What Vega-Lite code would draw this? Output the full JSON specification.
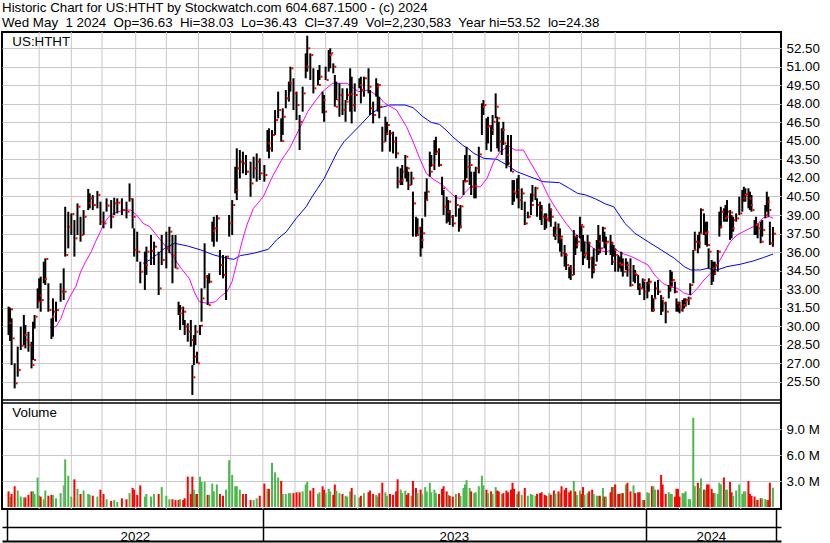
{
"$schema": "https://vega.github.io/schema/vega-lite/v6.json",
"width": 779, "height": 477,
"autosize": "none",
"padding": {"left": 2, "top": 32, "right": 49, "bottom": 34},
"background": "white",
"config": {"view": {"stroke": "black", "strokeWidth": 2}, "font": "Liberation Sans", "axis": {"labelFont": "Liberation Sans", "labelColor": "black"}},
"title": {"text": ["Historic Chart for US:HTHT by Stockwatch.com 604.687.1500 - (c) 2024", "Wed May\u00a0 1 2024\u00a0 Op=36.63\u00a0 Hi=38.03\u00a0 Lo=36.43\u00a0 Cl=37.49\u00a0 Vol=2,230,583\u00a0 Year hi=53.52\u00a0 lo=24.38"], "anchor": "start", "frame": "group", "fontSize": 13.33, "fontWeight": "normal", "font": "Liberation Sans", "color": "black", "lineHeight": 15, "offset": 2},
"datasets": {
"months": [{"i":21},{"i":42},{"i":62},{"i":84},{"i":104},{"i":125},{"i":146},{"i":167},{"i":188},{"i":208},{"i":229},{"i":249},{"i":271},{"i":291},{"i":312},{"i":334},{"i":354},{"i":375},{"i":397},{"i":417},{"i":439},{"i":459},{"i":479}],
"maS": [{"i":28.4,"m":29.9},{"i":32,"m":29.96},{"i":35.2,"m":30.63},{"i":38.4,"m":31.71},{"i":41.7,"m":32.52},{"i":44.9,"m":33.2},{"i":48.1,"m":34.41},{"i":51.3,"m":35.22},{"i":55,"m":36.03},{"i":57.8,"m":36.84},{"i":61,"m":37.65},{"i":63.2,"m":38.32},{"i":67.4,"m":39.0},{"i":71.7,"m":39.22},{"i":76,"m":39.4},{"i":80.8,"m":39.4},{"i":84.6,"m":39.0},{"i":88.9,"m":38.32},{"i":93.2,"m":38.05},{"i":97.5,"m":37.38},{"i":102.9,"m":36.57},{"i":109.3,"m":35.49},{"i":113.6,"m":34.68},{"i":119,"m":33.87},{"i":122.2,"m":32.79},{"i":125.5,"m":31.98},{"i":130.8,"m":31.85},{"i":136.2,"m":31.98},{"i":140.5,"m":32.52},{"i":143.7,"m":32.79},{"i":146.9,"m":33.6},{"i":150.2,"m":35.22},{"i":153.4,"m":36.84},{"i":156.6,"m":38.19},{"i":160.9,"m":39.54},{"i":167.3,"m":40.48},{"i":172.7,"m":41.97},{"i":179.2,"m":43.45},{"i":184.5,"m":44.4},{"i":191,"m":46.02},{"i":196.3,"m":47.37},{"i":201.7,"m":48.31},{"i":206,"m":48.99},{"i":212.5,"m":49.66},{"i":222.1,"m":49.66},{"i":226.4,"m":49.26},{"i":229.6,"m":48.99},{"i":236.1,"m":49.12},{"i":242.5,"m":48.58},{"i":246.8,"m":48.04},{"i":254.3,"m":47.5},{"i":260.8,"m":46.15},{"i":265.1,"m":44.94},{"i":269.4,"m":43.59},{"i":273.7,"m":42.37},{"i":279.1,"m":41.83},{"i":284.4,"m":41.43},{"i":288.7,"m":40.89},{"i":293,"m":40.4},{"i":296.2,"m":40.35},{"i":299.5,"m":40.89},{"i":302.7,"m":41.29},{"i":309.1,"m":41.29},{"i":313.4,"m":41.97},{"i":317.7,"m":43.32},{"i":322,"m":44.13},{"i":327.4,"m":44.59},{"i":331.7,"m":44.26},{"i":337.1,"m":44.26},{"i":341.4,"m":43.32},{"i":347.8,"m":41.97},{"i":354.2,"m":40.35},{"i":359.6,"m":39.27},{"i":365,"m":38.32},{"i":369.3,"m":37.65},{"i":374.7,"m":37.11},{"i":380,"m":36.57},{"i":384.3,"m":36.17},{"i":390.8,"m":36.03},{"i":397.2,"m":36.2},{"i":401.3,"m":35.9},{"i":407.7,"m":35.63},{"i":414.2,"m":35.22},{"i":418.5,"m":34.95},{"i":422.8,"m":34.14},{"i":428.1,"m":33.47},{"i":432.4,"m":33.2},{"i":437.8,"m":33.06},{"i":442.1,"m":32.66},{"i":446.4,"m":32.52},{"i":450.7,"m":33.06},{"i":455,"m":33.74},{"i":459.3,"m":34.28},{"i":463.6,"m":34.95},{"i":467.9,"m":35.9},{"i":472.2,"m":36.84},{"i":476.5,"m":37.38},{"i":482.9,"m":37.79},{"i":489.4,"m":38.19},{"i":493.7,"m":38.78},{"i":498,"m":38.86},{"i":500.1,"m":38.73}],
"maL": [{"i":88.9,"m":35.09},{"i":93.2,"m":35.36},{"i":97.5,"m":35.76},{"i":102.9,"m":36.3},{"i":109.3,"m":36.71},{"i":117.9,"m":36.49},{"i":126.5,"m":36.17},{"i":135.1,"m":35.76},{"i":143.7,"m":35.49},{"i":148,"m":35.41},{"i":152.3,"m":35.71},{"i":160.9,"m":35.9},{"i":170.6,"m":36.22},{"i":175.9,"m":36.98},{"i":182.4,"m":37.65},{"i":188.8,"m":38.73},{"i":195.3,"m":39.67},{"i":198.5,"m":40.35},{"i":202.8,"m":41.16},{"i":207.1,"m":41.97},{"i":211.4,"m":43.05},{"i":215.7,"m":44.13},{"i":220,"m":44.94},{"i":224.3,"m":45.48},{"i":230.7,"m":46.29},{"i":237.2,"m":47.15},{"i":243.6,"m":47.69},{"i":250.1,"m":47.91},{"i":259.7,"m":47.91},{"i":265.1,"m":47.69},{"i":271.5,"m":46.96},{"i":276.9,"m":46.5},{"i":282.3,"m":46.34},{"i":286.6,"m":45.88},{"i":290.9,"m":45.34},{"i":297.3,"m":44.67},{"i":301.6,"m":44.32},{"i":304.8,"m":43.99},{"i":311.3,"m":43.59},{"i":319.9,"m":43.51},{"i":326.3,"m":43.05},{"i":332.8,"m":42.51},{"i":341.4,"m":42.1},{"i":350,"m":41.7},{"i":360.7,"m":41.62},{"i":367.1,"m":41.16},{"i":372.5,"m":40.75},{"i":377.9,"m":40.62},{"i":384.3,"m":40.3},{"i":390.8,"m":39.89},{"i":396.1,"m":39.67},{"i":403.4,"m":38.32},{"i":409.9,"m":37.52},{"i":418.5,"m":36.84},{"i":427.1,"m":36.17},{"i":435.7,"m":35.49},{"i":442.1,"m":34.82},{"i":446.4,"m":34.55},{"i":452.8,"m":34.55},{"i":457.1,"m":34.68},{"i":463.6,"m":34.55},{"i":470,"m":34.82},{"i":478.6,"m":35.01},{"i":487.2,"m":35.28},{"i":493.7,"m":35.55},{"i":500.1,"m":35.84}],
"bars": [
{"i":1,"h":31.58,"l":29.28,"c":30.23,"v":1.8,"d":"dn"},
{"i":2,"h":31.5,"l":28.8,"c":31.36,"v":1.2,"d":"up"},
{"i":3,"h":30.63,"l":26.85,"c":29.01,"v":1.5,"d":"dn"},
{"i":5,"h":26.99,"l":24.96,"c":25.37,"v":2.4,"d":"dn"},
{"i":7,"h":28.34,"l":25.91,"c":26.45,"v":1.9,"d":"up"},
{"i":9,"h":29.96,"l":28.07,"c":28.42,"v":1.2,"d":"up"},
{"i":11,"h":30.9,"l":28.47,"c":29.28,"v":1.1,"d":"up"},
{"i":12,"h":30.09,"l":28.2,"c":28.88,"v":1.1,"d":"dn"},
{"i":14,"h":29.55,"l":27.93,"c":28.47,"v":1.4,"d":"dn"},
{"i":16,"h":28.74,"l":26.58,"c":26.85,"v":1.8,"d":"dn"},
{"i":17,"h":30.36,"l":27.26,"c":27.26,"v":1.8,"d":"up"},
{"i":18,"h":30.9,"l":29.8,"c":30.77,"v":1.5,"d":"up"},
{"i":20,"h":33.06,"l":31.44,"c":31.98,"v":3.4,"d":"up"},
{"i":21,"h":33.87,"l":31.98,"c":32.47,"v":1.3,"d":"up"},
{"i":22,"h":34.01,"l":31.17,"c":32.12,"v":1.2,"d":"dn"},
{"i":24,"h":35.22,"l":33.47,"c":33.82,"v":0.9,"d":"up"},
{"i":25,"h":35.49,"l":33.33,"c":35.44,"v":1.9,"d":"up"},
{"i":27,"h":33.47,"l":31.17,"c":31.31,"v":1.3,"d":"dn"},
{"i":29,"h":30.63,"l":28.96,"c":30.77,"v":1.4,"d":"dn"},
{"i":30,"h":32.25,"l":29.15,"c":31.17,"v":1.4,"d":"up"},
{"i":32,"h":31.98,"l":30.36,"c":31.3,"v":1.0,"d":"up"},
{"i":35,"h":33.47,"l":31.98,"c":32.79,"v":1.6,"d":"up"},
{"i":37,"h":34.68,"l":32.12,"c":32.79,"v":2.5,"d":"eq"},
{"i":38,"h":39.67,"l":35.63,"c":35.76,"v":5.5,"d":"up"},
{"i":40,"h":39.27,"l":36.3,"c":38.05,"v":3.6,"d":"up"},
{"i":42,"h":39.13,"l":37.38,"c":39.08,"v":1.2,"d":"up"},
{"i":44,"h":38.59,"l":35.63,"c":37.11,"v":3.2,"d":"dn"},
{"i":46,"h":39.94,"l":37.38,"c":39.67,"v":2.1,"d":"up"},
{"i":48,"h":38.86,"l":36.84,"c":37.38,"v":1.5,"d":"dn"},
{"i":50,"h":39.4,"l":37.38,"c":38.86,"v":1.9,"d":"up"},
{"i":53,"h":41.11,"l":39.4,"c":39.94,"v":1.5,"d":"up"},
{"i":54,"h":40.75,"l":39.54,"c":40.35,"v":1.4,"d":"up"},
{"i":56,"h":40.62,"l":39.4,"c":39.81,"v":1.3,"d":"dn"},
{"i":59,"h":40.94,"l":39.54,"c":40.62,"v":1.2,"d":"up"},
{"i":61,"h":40.08,"l":38.19,"c":38.46,"v":2.0,"d":"dn"},
{"i":63,"h":39.27,"l":37.92,"c":38.32,"v":1.5,"d":"dn"},
{"i":65,"h":40.35,"l":39.27,"c":39.76,"v":0.9,"d":"up"},
{"i":68,"h":40.21,"l":37.92,"c":38.86,"v":0.7,"d":"dn"},
{"i":70,"h":40.4,"l":39.0,"c":39.94,"v":0.8,"d":"up"},
{"i":72,"h":40.35,"l":39.13,"c":40.0,"v":0.6,"d":"up"},
{"i":75,"h":40.35,"l":39.0,"c":39.4,"v":1.0,"d":"dn"},
{"i":78,"h":40.08,"l":38.73,"c":39.27,"v":0.9,"d":"dn"},
{"i":80,"h":41.56,"l":40.08,"c":40.3,"v":1.6,"d":"up"},
{"i":82,"h":40.35,"l":37.92,"c":38.86,"v":2.2,"d":"dn"},
{"i":83,"h":37.92,"l":35.63,"c":36.17,"v":2.0,"d":"dn"},
{"i":85,"h":37.65,"l":35.22,"c":36.03,"v":1.4,"d":"dn"},
{"i":87,"h":35.22,"l":33.47,"c":34.41,"v":2.5,"d":"dn"},
{"i":90,"h":36.03,"l":32.93,"c":34.95,"v":1.2,"d":"up"},
{"i":91,"h":36.44,"l":34.14,"c":36.03,"v":1.5,"d":"up"},
{"i":94,"h":37.38,"l":34.95,"c":36.1,"v":1.2,"d":"up"},
{"i":96,"h":36.84,"l":34.95,"c":36.44,"v":1.5,"d":"up"},
{"i":99,"h":36.03,"l":32.52,"c":33.06,"v":1.5,"d":"dn"},
{"i":101,"h":37.38,"l":34.95,"c":35.36,"v":2.3,"d":"up"},
{"i":104,"h":37.65,"l":34.68,"c":36.3,"v":1.3,"d":"up"},
{"i":106,"h":38.05,"l":35.9,"c":37.65,"v":0.9,"d":"up"},
{"i":108,"h":37.38,"l":33.47,"c":35.76,"v":0.9,"d":"dn"},
{"i":110,"h":37.38,"l":34.68,"c":34.68,"v":0.8,"d":"dn"},
{"i":112,"h":31.98,"l":30.9,"c":31.04,"v":0.8,"d":"dn"},
{"i":113,"h":31.71,"l":29.69,"c":31.44,"v":0.9,"d":"up"},
{"i":115,"h":31.58,"l":30.09,"c":31.17,"v":0.8,"d":"dn"},
{"i":116,"h":30.5,"l":29.28,"c":29.96,"v":1.0,"d":"dn"},
{"i":118,"h":30.23,"l":28.74,"c":29.55,"v":3.5,"d":"dn"},
{"i":120,"h":30.5,"l":28.34,"c":28.88,"v":1.5,"d":"dn"},
{"i":121,"h":26.85,"l":24.43,"c":25.86,"v":3.5,"d":"dn"},
{"i":122,"h":29.28,"l":26.85,"c":27.53,"v":2.0,"d":"up"},
{"i":123,"h":30.09,"l":28.47,"c":29.55,"v":1.5,"d":"up"},
{"i":124,"h":27.93,"l":26.99,"c":26.99,"v":1.5,"d":"dn"},
{"i":126,"h":30.09,"l":29.28,"c":30.04,"v":3.5,"d":"up"},
{"i":127,"h":33.06,"l":30.36,"c":32.25,"v":2.9,"d":"up"},
{"i":129,"h":36.71,"l":33.06,"c":34.01,"v":2.9,"d":"up"},
{"i":131,"h":34.14,"l":31.71,"c":31.71,"v":1.4,"d":"dn"},
{"i":132,"h":34.28,"l":33.47,"c":33.6,"v":1.4,"d":"up"},
{"i":134,"h":38.46,"l":36.84,"c":37.7,"v":2.7,"d":"up"},
{"i":135,"h":38.86,"l":36.44,"c":37.92,"v":1.8,"d":"up"},
{"i":137,"h":39.0,"l":36.84,"c":38.73,"v":2.6,"d":"up"},
{"i":139,"h":36.17,"l":34.14,"c":34.95,"v":1.5,"d":"dn"},
{"i":141,"h":35.76,"l":33.87,"c":34.14,"v":1.3,"d":"dn"},
{"i":143,"h":35.7,"l":32.12,"c":35.63,"v":2.0,"d":"up"},
{"i":145,"h":39.0,"l":37.25,"c":38.32,"v":5.4,"d":"up"},
{"i":147,"h":40.21,"l":37.38,"c":39.81,"v":3.7,"d":"up"},
{"i":149,"h":42.91,"l":40.75,"c":41.02,"v":2.4,"d":"up"},
{"i":150,"h":44.4,"l":40.21,"c":42.78,"v":2.4,"d":"up"},
{"i":152,"h":44.26,"l":41.97,"c":43.32,"v":2.0,"d":"up"},
{"i":154,"h":44.13,"l":42.37,"c":43.18,"v":1.5,"d":"dn"},
{"i":156,"h":43.86,"l":42.24,"c":42.51,"v":1.5,"d":"dn"},
{"i":159,"h":43.32,"l":40.48,"c":41.56,"v":0.8,"d":"dn"},
{"i":161,"h":43.72,"l":41.97,"c":42.78,"v":0.8,"d":"up"},
{"i":163,"h":43.99,"l":41.7,"c":43.32,"v":1.0,"d":"up"},
{"i":165,"h":43.59,"l":41.83,"c":42.37,"v":1.3,"d":"dn"},
{"i":168,"h":43.05,"l":41.7,"c":42.24,"v":2.7,"d":"dn"},
{"i":170,"h":45.88,"l":44.13,"c":44.8,"v":2.1,"d":"up"},
{"i":171,"h":46.02,"l":43.59,"c":44.4,"v":2.1,"d":"dn"},
{"i":173,"h":45.88,"l":44.13,"c":45.48,"v":5.1,"d":"up"},
{"i":175,"h":47.5,"l":45.48,"c":46.69,"v":4.0,"d":"up"},
{"i":177,"h":48.99,"l":46.83,"c":47.5,"v":3.4,"d":"up"},
{"i":179,"h":46.83,"l":44.94,"c":44.99,"v":3.0,"d":"dn"},
{"i":180,"h":47.64,"l":45.48,"c":46.96,"v":1.5,"d":"up"},
{"i":182,"h":49.12,"l":47.64,"c":48.45,"v":1.5,"d":"up"},
{"i":184,"h":49.8,"l":48.18,"c":49.66,"v":1.6,"d":"up"},
{"i":185,"h":51.01,"l":48.99,"c":50.88,"v":1.6,"d":"up"},
{"i":187,"h":50.07,"l":47.5,"c":48.85,"v":1.6,"d":"dn"},
{"i":189,"h":48.99,"l":46.69,"c":47.91,"v":1.7,"d":"dn"},
{"i":191,"h":47.1,"l":44.26,"c":46.55,"v":1.7,"d":"dn"},
{"i":193,"h":49.39,"l":47.37,"c":48.85,"v":1.8,"d":"up"},
{"i":195,"h":52.09,"l":50.07,"c":51.01,"v":2.6,"d":"up"},
{"i":196,"h":53.52,"l":50.61,"c":52.5,"v":2.9,"d":"up"},
{"i":198,"h":52.09,"l":49.93,"c":51.96,"v":1.9,"d":"dn"},
{"i":200,"h":50.88,"l":48.85,"c":49.26,"v":2.2,"d":"dn"},
{"i":203,"h":50.74,"l":49.5,"c":49.53,"v":1.5,"d":"up"},
{"i":204,"h":51.15,"l":49.93,"c":50.2,"v":1.7,"d":"up"},
{"i":206,"h":48.99,"l":47.23,"c":48.31,"v":2.4,"d":"dn"},
{"i":207,"h":48.72,"l":46.55,"c":47.37,"v":2.0,"d":"dn"},
{"i":208,"h":51.01,"l":49.93,"c":49.93,"v":1.6,"d":"up"},
{"i":210,"h":52.36,"l":50.61,"c":51.96,"v":2.1,"d":"up"},
{"i":211,"h":52.5,"l":50.88,"c":52.09,"v":1.8,"d":"up"},
{"i":213,"h":51.28,"l":50.47,"c":51.01,"v":1.4,"d":"dn"},
{"i":214,"h":50.34,"l":47.77,"c":47.77,"v":2.6,"d":"dn"},
{"i":215,"h":49.8,"l":48.31,"c":48.31,"v":1.9,"d":"up"},
{"i":217,"h":49.66,"l":46.96,"c":48.72,"v":1.6,"d":"up"},
{"i":219,"h":49.26,"l":47.1,"c":47.5,"v":1.5,"d":"dn"},
{"i":221,"h":48.31,"l":46.55,"c":48.18,"v":1.3,"d":"up"},
{"i":222,"h":49.26,"l":48.31,"c":48.72,"v":1.2,"d":"up"},
{"i":224,"h":50.88,"l":47.37,"c":48.8,"v":1.8,"d":"up"},
{"i":225,"h":50.2,"l":46.42,"c":47.91,"v":2.2,"d":"dn"},
{"i":227,"h":49.66,"l":47.37,"c":48.72,"v":1.4,"d":"up"},
{"i":230,"h":50.07,"l":49.26,"c":49.53,"v":1.1,"d":"up"},
{"i":231,"h":50.2,"l":48.04,"c":49.12,"v":1.3,"d":"dn"},
{"i":233,"h":50.2,"l":48.58,"c":50.07,"v":1.6,"d":"up"},
{"i":236,"h":50.88,"l":48.85,"c":49.39,"v":1.7,"d":"dn"},
{"i":237,"h":49.12,"l":47.1,"c":47.64,"v":1.9,"d":"dn"},
{"i":239,"h":48.18,"l":46.42,"c":47.1,"v":1.5,"d":"dn"},
{"i":241,"h":50.07,"l":48.58,"c":49.39,"v":1.4,"d":"up"},
{"i":242,"h":49.66,"l":47.37,"c":49.53,"v":1.2,"d":"up"},
{"i":243,"h":48.58,"l":46.83,"c":47.77,"v":1.6,"d":"dn"},
{"i":245,"h":46.15,"l":44.13,"c":44.94,"v":2.8,"d":"dn"},
{"i":247,"h":46.96,"l":44.94,"c":45.61,"v":1.7,"d":"up"},
{"i":248,"h":46.55,"l":45.48,"c":46.29,"v":1.3,"d":"up"},
{"i":250,"h":45.88,"l":44.13,"c":45.61,"v":1.5,"d":"dn"},
{"i":252,"h":45.75,"l":43.99,"c":44.94,"v":1.4,"d":"dn"},
{"i":254,"h":45.34,"l":43.59,"c":43.99,"v":1.8,"d":"dn"},
{"i":255,"h":42.91,"l":41.16,"c":41.7,"v":3.2,"d":"dn"},
{"i":257,"h":42.78,"l":41.43,"c":41.8,"v":2.0,"d":"up"},
{"i":258,"h":43.05,"l":41.43,"c":42.51,"v":1.6,"d":"up"},
{"i":260,"h":43.86,"l":41.97,"c":43.72,"v":1.9,"d":"up"},
{"i":261,"h":42.91,"l":41.7,"c":42.78,"v":1.4,"d":"dn"},
{"i":262,"h":42.51,"l":41.02,"c":41.43,"v":1.6,"d":"dn"},
{"i":264,"h":42.51,"l":41.43,"c":41.97,"v":1.3,"d":"up"},
{"i":265,"h":40.89,"l":37.25,"c":39.94,"v":3.0,"d":"dn"},
{"i":267,"h":38.86,"l":37.25,"c":37.38,"v":2.2,"d":"dn"},
{"i":268,"h":38.73,"l":37.38,"c":37.92,"v":1.6,"d":"up"},
{"i":270,"h":38.05,"l":35.63,"c":36.98,"v":2.0,"d":"dn"},
{"i":271,"h":38.73,"l":36.3,"c":37.52,"v":1.5,"d":"up"},
{"i":273,"h":40.89,"l":38.86,"c":40.21,"v":2.3,"d":"up"},
{"i":274,"h":41.97,"l":40.21,"c":40.89,"v":1.8,"d":"up"},
{"i":276,"h":44.13,"l":42.1,"c":42.51,"v":2.8,"d":"up"},
{"i":277,"h":43.86,"l":42.91,"c":43.05,"v":1.7,"d":"up"},
{"i":279,"h":45.07,"l":42.64,"c":43.99,"v":2.0,"d":"up"},
{"i":280,"h":45.34,"l":43.86,"c":44.13,"v":1.6,"d":"up"},
{"i":282,"h":44.4,"l":42.91,"c":43.05,"v":1.5,"d":"dn"},
{"i":284,"h":42.1,"l":40.62,"c":41.16,"v":2.1,"d":"dn"},
{"i":285,"h":41.02,"l":39.0,"c":39.67,"v":2.4,"d":"dn"},
{"i":287,"h":40.48,"l":38.32,"c":39.27,"v":1.8,"d":"dn"},
{"i":288,"h":40.21,"l":38.46,"c":40.08,"v":1.4,"d":"up"},
{"i":289,"h":39.4,"l":38.19,"c":38.86,"v":1.3,"d":"dn"},
{"i":291,"h":39.0,"l":38.05,"c":38.32,"v":1.2,"d":"dn"},
{"i":293,"h":40.62,"l":38.86,"c":39.81,"v":1.5,"d":"up"},
{"i":295,"h":39.54,"l":37.65,"c":38.05,"v":1.6,"d":"dn"},
{"i":296,"h":39.81,"l":37.92,"c":39.7,"v":1.3,"d":"up"},
{"i":298,"h":41.83,"l":40.62,"c":41.7,"v":2.2,"d":"up"},
{"i":299,"h":43.86,"l":41.7,"c":41.75,"v":2.6,"d":"up"},
{"i":300,"h":44.53,"l":41.97,"c":42.91,"v":3.1,"d":"up"},
{"i":302,"h":43.86,"l":41.43,"c":43.05,"v":2.2,"d":"up"},
{"i":303,"h":42.51,"l":40.62,"c":41.29,"v":1.8,"d":"dn"},
{"i":305,"h":42.51,"l":40.35,"c":41.35,"v":1.6,"d":"up"},
{"i":306,"h":42.91,"l":40.35,"c":42.78,"v":1.7,"d":"up"},
{"i":308,"h":44.53,"l":42.37,"c":43.91,"v":2.4,"d":"up"},
{"i":310,"h":48.04,"l":45.48,"c":47.77,"v":3.6,"d":"up"},
{"i":311,"h":48.31,"l":47.1,"c":47.91,"v":2.5,"d":"up"},
{"i":313,"h":46.83,"l":44.26,"c":46.15,"v":2.0,"d":"dn"},
{"i":314,"h":46.96,"l":44.8,"c":46.2,"v":1.6,"d":"up"},
{"i":316,"h":46.29,"l":44.13,"c":45.88,"v":1.8,"d":"dn"},
{"i":317,"h":47.1,"l":45.48,"c":46.55,"v":1.5,"d":"up"},
{"i":319,"h":48.85,"l":46.83,"c":47.77,"v":2.3,"d":"up"},
{"i":320,"h":46.96,"l":44.4,"c":46.83,"v":1.9,"d":"dn"},
{"i":321,"h":46.55,"l":44.13,"c":44.94,"v":1.8,"d":"dn"},
{"i":323,"h":46.02,"l":43.86,"c":45.88,"v":1.5,"d":"up"},
{"i":324,"h":46.55,"l":44.67,"c":44.8,"v":1.6,"d":"dn"},
{"i":326,"h":44.67,"l":42.78,"c":43.86,"v":1.9,"d":"dn"},
{"i":327,"h":45.48,"l":43.05,"c":43.18,"v":1.7,"d":"dn"},
{"i":329,"h":45.48,"l":42.51,"c":42.51,"v":2.0,"d":"dn"},
{"i":330,"h":41.83,"l":39.81,"c":40.89,"v":2.8,"d":"dn"},
{"i":331,"h":41.83,"l":40.08,"c":40.75,"v":2.1,"d":"dn"},
{"i":333,"h":41.97,"l":40.35,"c":41.02,"v":1.5,"d":"up"},
{"i":334,"h":42.24,"l":39.54,"c":40.21,"v":1.8,"d":"dn"},
{"i":336,"h":41.16,"l":39.4,"c":40.75,"v":1.4,"d":"up"},
{"i":338,"h":40.08,"l":38.19,"c":38.32,"v":2.2,"d":"dn"},
{"i":340,"h":39.27,"l":38.73,"c":38.86,"v":1.3,"d":"up"},
{"i":342,"h":40.75,"l":39.0,"c":39.81,"v":1.5,"d":"up"},
{"i":343,"h":41.43,"l":40.08,"c":40.62,"v":1.4,"d":"up"},
{"i":345,"h":41.29,"l":40.21,"c":41.16,"v":1.3,"d":"up"},
{"i":346,"h":40.35,"l":38.86,"c":39.81,"v":1.5,"d":"dn"},
{"i":348,"h":40.08,"l":38.59,"c":39.4,"v":1.6,"d":"dn"},
{"i":349,"h":39.81,"l":38.19,"c":38.86,"v":1.7,"d":"dn"},
{"i":351,"h":39.13,"l":37.79,"c":38.73,"v":1.4,"d":"dn"},
{"i":352,"h":39.13,"l":37.92,"c":38.59,"v":1.3,"d":"dn"},
{"i":354,"h":39.94,"l":38.46,"c":39.4,"v":1.6,"d":"up"},
{"i":355,"h":39.54,"l":38.05,"c":38.86,"v":1.4,"d":"dn"},
{"i":357,"h":38.05,"l":37.25,"c":37.38,"v":1.9,"d":"dn"},
{"i":358,"h":38.46,"l":36.98,"c":37.92,"v":1.5,"d":"up"},
{"i":360,"h":38.32,"l":36.71,"c":37.11,"v":1.8,"d":"dn"},
{"i":361,"h":37.92,"l":36.03,"c":37.25,"v":1.6,"d":"up"},
{"i":362,"h":37.11,"l":35.63,"c":35.9,"v":2.4,"d":"dn"},
{"i":364,"h":36.57,"l":34.82,"c":35.76,"v":2.0,"d":"dn"},
{"i":365,"h":35.9,"l":34.55,"c":34.95,"v":2.2,"d":"dn"},
{"i":367,"h":34.82,"l":33.87,"c":34.68,"v":1.7,"d":"dn"},
{"i":368,"h":34.95,"l":33.74,"c":34.14,"v":1.9,"d":"dn"},
{"i":370,"h":37.79,"l":34.14,"c":37.25,"v":3.0,"d":"up"},
{"i":371,"h":37.25,"l":35.76,"c":36.57,"v":1.8,"d":"dn"},
{"i":372,"h":37.38,"l":36.3,"c":36.84,"v":1.4,"d":"up"},
{"i":374,"h":38.86,"l":37.11,"c":38.19,"v":1.9,"d":"up"},
{"i":375,"h":38.19,"l":36.03,"c":38.05,"v":1.5,"d":"dn"},
{"i":376,"h":37.38,"l":34.95,"c":35.76,"v":2.3,"d":"dn"},
{"i":377,"h":36.84,"l":35.49,"c":35.9,"v":1.4,"d":"up"},
{"i":379,"h":37.38,"l":35.36,"c":36.71,"v":1.6,"d":"up"},
{"i":380,"h":36.84,"l":34.68,"c":35.49,"v":1.8,"d":"dn"},
{"i":382,"h":35.63,"l":33.87,"c":34.55,"v":2.0,"d":"dn"},
{"i":383,"h":36.3,"l":34.28,"c":34.95,"v":1.5,"d":"up"},
{"i":385,"h":36.98,"l":35.22,"c":36.17,"v":1.3,"d":"up"},
{"i":386,"h":38.19,"l":35.76,"c":36.84,"v":1.3,"d":"up"},
{"i":387,"h":37.38,"l":35.9,"c":36.3,"v":1.3,"d":"dn"},
{"i":389,"h":38.05,"l":36.84,"c":37.92,"v":2.2,"d":"up"},
{"i":390,"h":37.65,"l":36.3,"c":36.71,"v":1.2,"d":"dn"},
{"i":391,"h":37.25,"l":35.76,"c":36.84,"v":1.2,"d":"up"},
{"i":394,"h":37.38,"l":35.76,"c":36.71,"v":1.7,"d":"dn"},
{"i":395,"h":36.84,"l":34.95,"c":35.22,"v":2.3,"d":"dn"},
{"i":396,"h":36.57,"l":35.63,"c":36.17,"v":2.3,"d":"up"},
{"i":397,"h":36.3,"l":34.41,"c":35.76,"v":2.6,"d":"dn"},
{"i":399,"h":35.76,"l":34.41,"c":35.09,"v":1.5,"d":"dn"},
{"i":400,"h":35.63,"l":34.68,"c":34.95,"v":1.5,"d":"dn"},
{"i":401,"h":36.03,"l":34.41,"c":35.0,"v":1.6,"d":"up"},
{"i":402,"h":35.49,"l":34.01,"c":34.41,"v":1.6,"d":"dn"},
{"i":404,"h":35.49,"l":34.55,"c":34.95,"v":2.6,"d":"up"},
{"i":405,"h":35.22,"l":34.01,"c":34.55,"v":2.8,"d":"dn"},
{"i":407,"h":35.49,"l":33.2,"c":33.33,"v":1.8,"d":"dn"},
{"i":409,"h":34.95,"l":33.6,"c":34.28,"v":2.5,"d":"up"},
{"i":410,"h":34.55,"l":33.47,"c":34.14,"v":1.6,"d":"dn"},
{"i":412,"h":34.14,"l":32.93,"c":33.2,"v":1.7,"d":"dn"},
{"i":413,"h":33.47,"l":32.52,"c":33.06,"v":1.7,"d":"dn"},
{"i":415,"h":33.87,"l":33.06,"c":33.74,"v":0.8,"d":"up"},
{"i":416,"h":33.6,"l":32.12,"c":32.79,"v":0.8,"d":"dn"},
{"i":418,"h":33.6,"l":32.25,"c":33.47,"v":1.7,"d":"up"},
{"i":419,"h":33.87,"l":32.79,"c":33.6,"v":1.6,"d":"up"},
{"i":421,"h":32.52,"l":31.17,"c":31.31,"v":2.4,"d":"dn"},
{"i":422,"h":32.25,"l":31.17,"c":32.25,"v":2.4,"d":"up"},
{"i":423,"h":33.6,"l":32.25,"c":33.06,"v":2.0,"d":"up"},
{"i":425,"h":33.74,"l":32.52,"c":32.79,"v":2.0,"d":"dn"},
{"i":427,"h":32.52,"l":30.9,"c":32.25,"v":3.7,"d":"dn"},
{"i":428,"h":32.12,"l":31.17,"c":31.85,"v":2.6,"d":"dn"},
{"i":430,"h":31.98,"l":30.23,"c":31.17,"v":1.5,"d":"dn"},
{"i":432,"h":33.33,"l":32.25,"c":33.2,"v":1.7,"d":"up"},
{"i":433,"h":34.55,"l":32.79,"c":33.6,"v":1.5,"d":"up"},
{"i":434,"h":34.41,"l":33.2,"c":33.74,"v":1.5,"d":"up"},
{"i":436,"h":33.6,"l":32.66,"c":32.79,"v":1.2,"d":"dn"},
{"i":437,"h":32.25,"l":31.17,"c":31.85,"v":2.1,"d":"dn"},
{"i":438,"h":31.98,"l":31.17,"c":31.58,"v":2.1,"d":"dn"},
{"i":439,"h":31.98,"l":31.04,"c":31.31,"v":1.2,"d":"dn"},
{"i":441,"h":32.12,"l":31.17,"c":31.71,"v":1.6,"d":"up"},
{"i":442,"h":32.25,"l":31.44,"c":31.98,"v":1.6,"d":"up"},
{"i":443,"h":32.25,"l":31.58,"c":32.12,"v":1.8,"d":"up"},
{"i":445,"h":32.39,"l":31.71,"c":32.25,"v":0.9,"d":"up"},
{"i":446,"h":33.47,"l":32.52,"c":33.33,"v":0.9,"d":"up"},
{"i":448,"h":36.17,"l":33.47,"c":36.17,"v":10.3,"d":"up"},
{"i":449,"h":37.65,"l":36.17,"c":36.84,"v":2.4,"d":"up"},
{"i":451,"h":37.38,"l":35.9,"c":36.71,"v":2.8,"d":"dn"},
{"i":452,"h":37.65,"l":36.3,"c":37.52,"v":2.2,"d":"up"},
{"i":453,"h":39.54,"l":37.52,"c":39.4,"v":3.3,"d":"up"},
{"i":455,"h":39.13,"l":37.38,"c":37.52,"v":2.0,"d":"dn"},
{"i":456,"h":38.46,"l":36.57,"c":37.6,"v":2.0,"d":"up"},
{"i":457,"h":38.46,"l":36.44,"c":36.57,"v":2.6,"d":"dn"},
{"i":458,"h":36.3,"l":34.68,"c":36.03,"v":2.6,"d":"dn"},
{"i":460,"h":35.36,"l":33.33,"c":34.68,"v":2.1,"d":"dn"},
{"i":461,"h":35.22,"l":33.6,"c":34.28,"v":1.6,"d":"dn"},
{"i":462,"h":35.22,"l":34.14,"c":34.95,"v":1.6,"d":"up"},
{"i":464,"h":36.17,"l":34.41,"c":36.03,"v":1.5,"d":"up"},
{"i":465,"h":39.27,"l":37.25,"c":38.05,"v":2.8,"d":"up"},
{"i":466,"h":39.67,"l":37.92,"c":39.27,"v":2.6,"d":"up"},
{"i":468,"h":39.54,"l":38.46,"c":38.73,"v":3.4,"d":"dn"},
{"i":469,"h":39.81,"l":38.46,"c":38.86,"v":2.0,"d":"up"},
{"i":470,"h":40.21,"l":38.46,"c":39.27,"v":2.0,"d":"up"},
{"i":472,"h":39.4,"l":36.98,"c":39.2,"v":2.9,"d":"dn"},
{"i":473,"h":39.0,"l":37.11,"c":37.92,"v":1.7,"d":"dn"},
{"i":474,"h":38.86,"l":37.65,"c":38.59,"v":1.3,"d":"up"},
{"i":476,"h":39.13,"l":38.46,"c":38.73,"v":1.9,"d":"up"},
{"i":478,"h":40.48,"l":39.0,"c":39.13,"v":2.6,"d":"up"},
{"i":480,"h":41.02,"l":39.27,"c":40.35,"v":1.5,"d":"up"},
{"i":481,"h":41.29,"l":40.08,"c":40.62,"v":1.8,"d":"up"},
{"i":482,"h":41.16,"l":40.08,"c":40.7,"v":1.8,"d":"up"},
{"i":484,"h":41.16,"l":39.54,"c":40.35,"v":3.0,"d":"dn"},
{"i":485,"h":40.89,"l":39.4,"c":39.81,"v":1.5,"d":"dn"},
{"i":486,"h":40.62,"l":39.27,"c":39.4,"v":1.3,"d":"dn"},
{"i":488,"h":38.59,"l":37.38,"c":38.19,"v":1.2,"d":"dn"},
{"i":489,"h":38.86,"l":37.38,"c":38.25,"v":0.8,"d":"up"},
{"i":490,"h":38.19,"l":37.11,"c":37.92,"v":0.8,"d":"dn"},
{"i":492,"h":38.46,"l":36.71,"c":36.84,"v":1.0,"d":"dn"},
{"i":493,"h":38.59,"l":37.25,"c":37.79,"v":1.0,"d":"up"},
{"i":495,"h":39.81,"l":38.73,"c":39.0,"v":0.9,"d":"up"},
{"i":496,"h":40.89,"l":39.27,"c":40.08,"v":0.8,"d":"up"},
{"i":497,"h":40.48,"l":38.86,"c":39.4,"v":0.8,"d":"dn"},
{"i":498,"h":38.46,"l":36.57,"c":36.71,"v":2.8,"d":"dn"},
{"i":500,"h":38.03,"l":36.43,"c":37.49,"v":2.23,"d":"up"}
]
},
"layer": [
{
"data": {"name": "months"},
"mark": {"type": "rule", "color": "#c8c8c8", "strokeWidth": 1},
"encoding": {
"x": {"field": "i", "type": "quantitative", "scale": {"domain": [0, 502], "nice": false, "zero": false},
"axis": {"values": [0, 167, 417, 502], "labels": false, "ticks": true, "tickSize": 32, "tickColor": "black", "tickWidth": 1.5, "domain": false, "grid": false, "title": null}}
}
},
{
"data": {"name": "bars"},
"mark": {"type": "bar", "width": 2},
"encoding": {
"x": {"field": "i", "type": "quantitative", "scale": {"domain": [0, 502], "nice": false, "zero": false},
"axis": {"orient": "bottom", "offset": 18, "domain": true, "domainColor": "black", "domainWidth": 1.5, "ticks": false, "labels": true, "values": [83.5, 291.7, 459.5], "labelExpr": "datum.value < 200 ? '2022' : (datum.value < 400 ? '2023' : '2024')", "labelFontSize": 13.33, "labelPadding": 2, "labelFlush": false, "labelOverlap": false, "grid": false, "title": null}},
"y": {"field": "v", "type": "quantitative", "stack": null, "scale": {"domain": [0, 12], "range": [475, 371], "nice": false, "zero": true},
"axis": {"orient": "right", "values": [3, 6, 9], "labelExpr": "format(datum.value, '.1f') + ' M'", "grid": true, "gridColor": "#c8c8c8", "gridWidth": 1, "ticks": false, "domain": false, "labelFontSize": 13.33, "labelPadding": 5, "title": null}},
"color": {"field": "d", "type": "nominal", "scale": {"domain": ["up", "dn", "eq"], "range": ["#4cb84c", "#ff0000", "#a0a0a0"]}, "legend": null}
}
},
{
"data": {"name": "maL"},
"mark": {"type": "line", "color": "#0000ff", "strokeWidth": 1},
"encoding": {
"x": {"field": "i", "type": "quantitative", "scale": {"domain": [0, 502], "nice": false, "zero": false}, "axis": null},
"y": {"field": "m", "type": "quantitative", "scale": {"domain": [24.02, 53.82], "range": [368, 0], "nice": false, "zero": false}, "axis": null}
}
},
{
"data": {"name": "maS"},
"mark": {"type": "line", "color": "#ff00ff", "strokeWidth": 1},
"encoding": {
"x": {"field": "i", "type": "quantitative", "scale": {"domain": [0, 502], "nice": false, "zero": false}, "axis": null},
"y": {"field": "m", "type": "quantitative", "scale": {"domain": [24.02, 53.82], "range": [368, 0], "nice": false, "zero": false}, "axis": null}
}
},
{
"data": {"name": "bars"},
"mark": {"type": "rule", "color": "black", "strokeWidth": 2},
"encoding": {
"x": {"field": "i", "type": "quantitative", "scale": {"domain": [0, 502], "nice": false, "zero": false},
"axis": {"orient": "bottom", "offset": 32, "domain": true, "domainColor": "black", "domainWidth": 2, "ticks": false, "labels": false, "grid": false, "title": null}},
"y": {"field": "l", "type": "quantitative", "scale": {"domain": [24.02, 53.82], "range": [368, 0], "nice": false, "zero": false},
"axis": {"orient": "right", "values": [25.5, 27, 28.5, 30, 31.5, 33, 34.5, 36, 37.5, 39, 40.5, 42, 43.5, 45, 46.5, 48, 49.5, 51, 52.5], "format": ".2f", "grid": true, "gridColor": "#c8c8c8", "gridWidth": 1, "ticks": false, "domain": false, "labelFontSize": 13.33, "labelPadding": 5, "title": null}},
"y2": {"field": "h"}
}
},
{
"data": {"name": "bars"},
"mark": {"type": "square", "color": "#ff0000", "size": 4, "xOffset": 2, "opacity": 1},
"encoding": {
"x": {"field": "i", "type": "quantitative", "scale": {"domain": [0, 502], "nice": false, "zero": false}, "axis": null},
"y": {"field": "c", "type": "quantitative", "scale": {"domain": [24.02, 53.82], "range": [368, 0], "nice": false, "zero": false}, "axis": null}
}
},
{
"data": {"values": [{}]},
"mark": {"type": "rule", "color": "black", "strokeWidth": 1.5},
"encoding": {
"y": {"datum": 24.02, "type": "quantitative", "scale": {"domain": [24.02, 53.82], "range": [368, 0], "nice": false, "zero": false}, "axis": null}
}
},
{
"data": {"values": [{}]},
"mark": {"type": "text", "align": "left", "baseline": "middle", "fontSize": 13.33, "font": "Liberation Sans", "color": "black"},
"encoding": {
"x": {"datum": 3.5, "type": "quantitative", "scale": {"domain": [0, 502], "nice": false, "zero": false}, "axis": null},
"y": {"datum": 53.05, "type": "quantitative", "scale": {"domain": [24.02, 53.82], "range": [368, 0], "nice": false, "zero": false}, "axis": null},
"text": {"value": "US:HTHT"}
}
},
{
"data": {"values": [{}]},
"mark": {"type": "rule", "color": "black", "strokeWidth": 1.5},
"encoding": {
"y": {"datum": 12, "type": "quantitative", "scale": {"domain": [0, 12], "range": [475, 371], "nice": false, "zero": true}, "axis": null}
}
},
{
"data": {"values": [{}]},
"mark": {"type": "text", "align": "left", "baseline": "middle", "fontSize": 13.33, "font": "Liberation Sans", "color": "black"},
"encoding": {
"x": {"datum": 3.5, "type": "quantitative", "scale": {"domain": [0, 502], "nice": false, "zero": false}, "axis": null},
"y": {"datum": 10.85, "type": "quantitative", "scale": {"domain": [0, 12], "range": [475, 371], "nice": false, "zero": true}, "axis": null},
"text": {"value": "Volume"}
}
}
],
"resolve": {"scale": {"y": "independent"}, "axis": {"x": "independent", "y": "independent"}}
}
